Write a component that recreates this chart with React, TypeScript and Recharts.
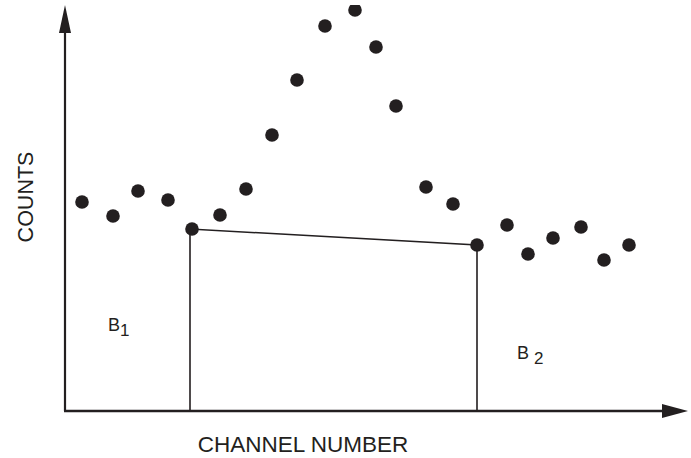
import React from 'react';
import { ComposedChart, Scatter, XAxis, YAxis, ReferenceLine, ReferenceDot, Label } from 'recharts';

// Channel numbers and counts of the measured points
const channels = [1.7, 4.8, 7.3, 10.3, 12.7, 15.5, 18.1, 20.7, 23.2, 26.0, 29.0, 31.1, 33.1, 36.1, 38.8, 41.2, 44.2, 46.3, 48.8, 51.6, 53.9, 56.4];
const counts = [104.5, 97.5, 110, 105.5, 91, 98, 111, 138, 165.5, 192.5, 200.5, 182, 152.5, 112, 103.5, 83, 93, 78.5, 86.5, 92, 75.5, 83];

// Background region (trapezoid) outline
const regionChannels = [12.5, 12.5, 41.2, 41.2];
const regionCounts = [0, 91, 83, 0];

// Axis extents
const xMax = 62.3;
const yMax = 203;

// Background labels
const bgLabels = [
  { x: 4.3, y: 40, main: 'B', sub: '1', gap: '' },
  { x: 45.2, y: 26, main: 'B', sub: '2', gap: ' ' },
];

const points = channels.map((c, i) => ({ x: c, y: counts[i] }));
const region = regionChannels.map((c, i) => ({ x: c, y: regionCounts[i] }));

const INK = '#231f20';
const FONT = "'Liberation Sans', Arial, Helvetica, sans-serif";

const Dot = (props: any) => {
  const { cx, cy } = props;
  if (cx == null || cy == null) return null;
  return <circle cx={cx} cy={cy} r={6.8} fill={INK} />;
};

const NoShape = () => null;

const ArrowV = (props: any) => {
  const { x1, y1, x2, y2 } = props;
  const top = Math.min(y1, y2);
  const bottom = Math.max(y1, y2);
  return (
    <g>
      <line x1={x1} y1={bottom} x2={x1} y2={top + 20} stroke={INK} strokeWidth={2.2} />
      <polygon points={`${x1},${top} ${x1 - 6},${top + 28} ${x1 + 6},${top + 28}`} fill={INK} />
    </g>
  );
};

const ArrowH = (props: any) => {
  const { x1, y1, x2 } = props;
  const left = Math.min(x1, x2);
  const right = Math.max(x1, x2);
  return (
    <g>
      <line x1={left - 1} y1={y1} x2={right - 20} y2={y1} stroke={INK} strokeWidth={2.4} />
      <polygon points={`${right},${y1} ${right - 26},${y1 - 7} ${right - 26},${y1 + 7}`} fill={INK} />
    </g>
  );
};

const makeBgLabel = (main: string, gap: string, sub: string) => (props: any) => {
  const { cx, cy } = props;
  return (
    <text x={cx} y={cy} fill={INK} fontFamily={FONT} fontSize={18}>
      {main + gap}
      <tspan dy={5} fontSize={17}>{sub}</tspan>
    </text>
  );
};

export default function App() {
  return (
    <div style={{ position: 'absolute', left: 0, top: 0, width: 691, height: 458, background: '#fff' }}>
      <ComposedChart width={691} height={458} margin={{ top: 5, right: 3, bottom: 0, left: 0 }}>
        <XAxis
          type="number"
          dataKey="x"
          domain={[0, xMax]}
          allowDataOverflow
          axisLine={false}
          tickLine={false}
          tick={false}
          height={47}
        >
          <Label
            content={(p: any) => {
              const vb = p.viewBox || { x: 65, y: 411 };
              return (
                <text x={vb.x + 238} y={vb.y + 41} textAnchor="middle" fill={INK} fontFamily={FONT} fontSize={22.5}>
                  CHANNEL NUMBER
                </text>
              );
            }}
          />
        </XAxis>
        <YAxis
          type="number"
          dataKey="y"
          domain={[0, yMax]}
          allowDataOverflow
          axisLine={false}
          tickLine={false}
          tick={false}
          width={65}
        >
          <Label
            content={(p: any) => {
              const vb = p.viewBox || { x: 0, y: 5 };
              const cx = vb.x + 33;
              const cy = 197;
              return (
                <text
                  x={cx}
                  y={cy}
                  transform={`rotate(-90, ${cx}, ${cy})`}
                  textAnchor="middle"
                  fill={INK}
                  fontFamily={FONT}
                  fontSize={21.5}
                >
                  COUNTS
                </text>
              );
            }}
          />
        </YAxis>
        <ReferenceLine segment={[{ x: 0, y: 0 }, { x: 0, y: yMax }]} ifOverflow="visible" shape={ArrowV} />
        <ReferenceLine segment={[{ x: 0, y: 0 }, { x: xMax, y: 0 }]} ifOverflow="visible" shape={ArrowH} />
        <Scatter
          data={region}
          dataKey="y"
          line={{ stroke: INK, strokeWidth: 1.6 }}
          lineType="joint"
          shape={NoShape}
          isAnimationActive={false}
        />
        <Scatter data={points} dataKey="y" shape={Dot} isAnimationActive={false} />
        {bgLabels.map((b) => (
          <ReferenceDot
            key={b.main + b.sub}
            x={b.x}
            y={b.y}
            r={0}
            ifOverflow="visible"
            shape={makeBgLabel(b.main, b.gap, b.sub)}
          />
        ))}
      </ComposedChart>
    </div>
  );
}
